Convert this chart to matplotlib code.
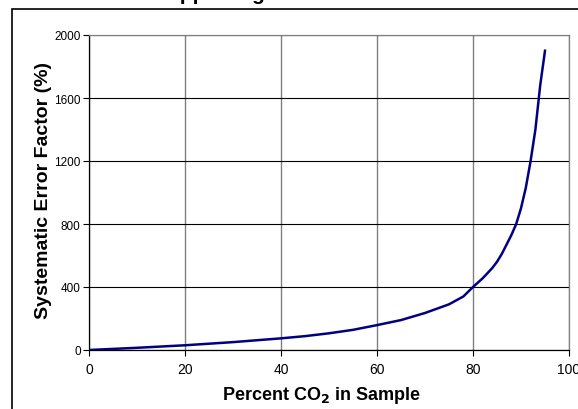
import matplotlib.pyplot as plt
from matplotlib.patches import Rectangle

plt.rcParams['font.family'] = ['Liberation Sans', 'DejaVu Sans']

# Values
pct_co2 = [0, 10, 20, 30, 40, 45, 50, 55, 60, 65, 70, 75, 78, 80,
           82, 84, 85, 86, 88, 89, 90, 91, 92, 93, 94, 95]
error_factor = [0, 14, 30, 50, 74, 88, 106, 128, 158, 190, 235, 290, 340, 400,
                455, 520, 560, 610, 730, 800, 900, 1030, 1200, 1400, 1680, 1900]

x_ticks = [0, 20, 40, 60, 80, 100]
y_ticks = [0, 400, 800, 1200, 1600, 2000]

fig = plt.figure(figsize=(5.78, 4.10), dpi=100)
ax = fig.add_axes([89 / 578, 59 / 410, 480 / 578, 315 / 410])

# outer chart frame (runs past right and bottom edges)
fig.patches.append(Rectangle((12 / 578, -0.05), 1.1, 1 - 10 / 410 + 0.05,
                             transform=fig.transFigure, fill=False,
                             edgecolor='black', linewidth=1.2, clip_on=False))
# title, cut off at the top: only descenders show
fig.text(153 / 578, 1 + 0.3 / 410, 'Supporting Data', fontsize=15,
         fontweight='bold', ha='left', va='baseline')

ax.plot(pct_co2, error_factor, color='#000080', linewidth=1.8, zorder=3)

ax.set_xlim(0, 100)
ax.set_ylim(0, 2000)
ax.set_xticks(x_ticks)
ax.set_yticks(y_ticks)
ax.tick_params(axis='x', labelsize=10, length=4, width=0.8, pad=5, direction='out')
ax.tick_params(axis='y', labelsize=8.5, length=4, width=0.8, pad=2, direction='out')

ax.yaxis.grid(True, color='black', linewidth=0.8)
ax.xaxis.grid(True, color='#808080', linewidth=1.0)
ax.set_axisbelow(True)
for side in ['top', 'right']:
    ax.spines[side].set_color('#808080')
for side in ['left', 'bottom']:
    ax.spines[side].set_color('black')
for s in ax.spines.values():
    s.set_linewidth(0.9)

ax.set_xlabel('Percent CO$_\\mathbf{2}$ in Sample', fontsize=13, fontweight='bold')
ax.xaxis.set_label_coords(0.484, -0.108)
ax.set_ylabel('Systematic Error Factor (%)', fontsize=14, fontweight='bold')
ax.yaxis.set_label_coords(-0.078, 0.51)

fig.savefig('out.png', dpi=100)
